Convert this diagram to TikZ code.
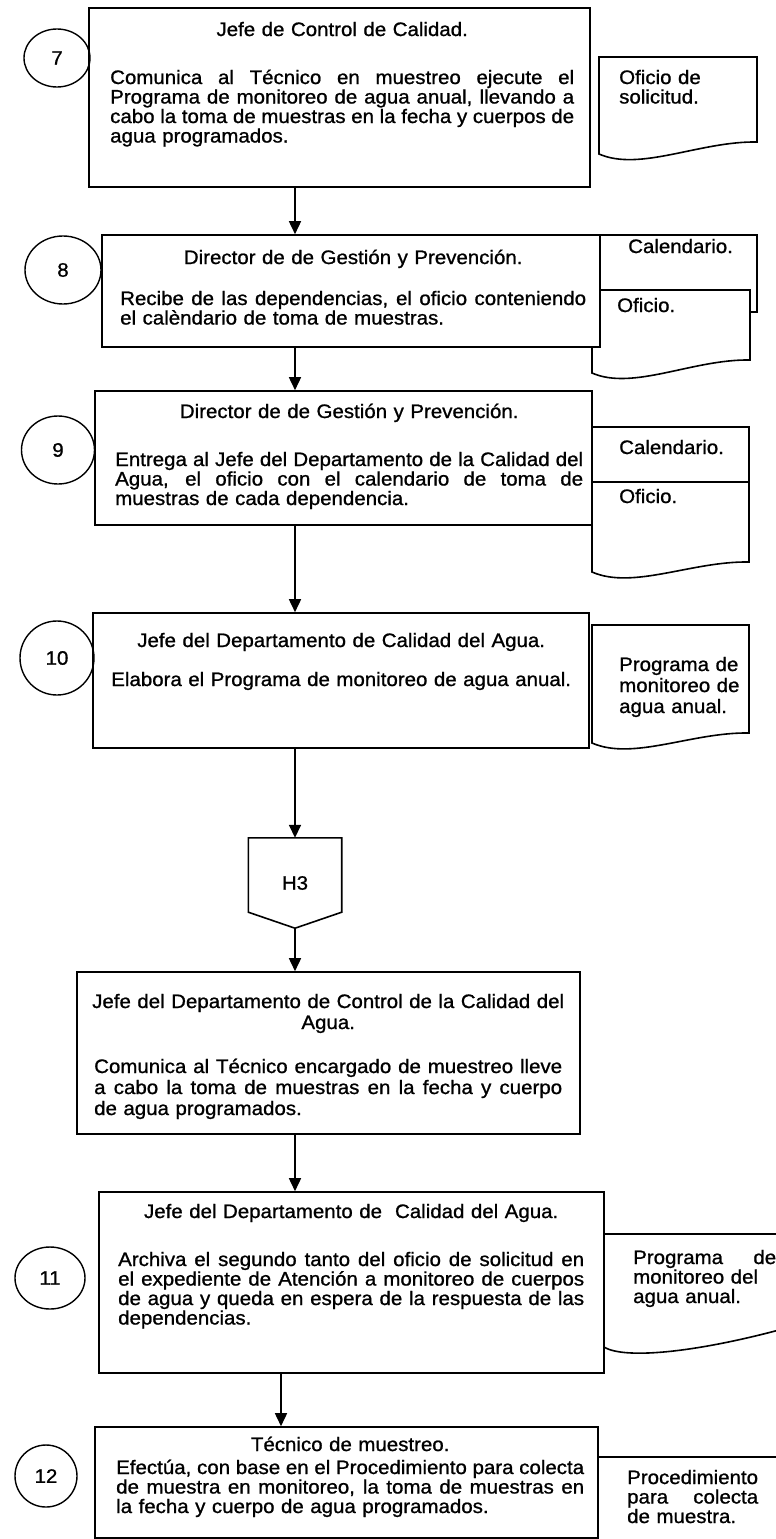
\documentclass[tikz,border=0pt]{standalone}
\usepackage{fontspec}
\setmainfont[FakeStretch=1.05,FakeBold=1]{Liberation Sans}
\usetikzlibrary{arrows.meta,calc,positioning,shapes.geometric}
\newcommand{\jline}[1]{\leavevmode\hbox to\hsize{\spaceskip=0.278em plus 1fil minus 0.06em
  \xspaceskip=\spaceskip\relax #1}}
\newcommand{\mline}[1]{\makebox[\hsize]{#1}}

\begin{document}
\begin{tikzpicture}[x=1pt,y=-1pt,
    font=\fontsize{19.5}{19.5}\selectfont,
    box/.style={draw,fill=white,line width=1.6pt,inner sep=0pt},
    circ/.style={ellipse,draw,line width=1.4pt,inner sep=0pt},
    doc/.style={draw,fill=white,line width=1.6pt},
    txt/.style={anchor=base west,inner sep=0pt},
    arr/.style={-{Triangle[length=13pt,width=12pt]},line width=1.6pt}]
  \path[use as bounding box,fill=white] (0,0) rectangle (776,1539);
  \clip (0,0) rectangle (776,1539);

  \draw[doc] (599,57) -- (757,57) -- (757,142)
    .. controls (700,141) and (640,172) .. (599,154) -- cycle;
  \draw[doc] (600,235) rectangle (757,312);
  \draw[doc] (592,290) -- (750,290) -- (750,360)
    .. controls (693,359) and (633,391) .. (592,373) -- cycle;
  \draw[doc] (592,427) -- (749,427) -- (749,562)
    .. controls (692,561) and (633,590) .. (592,572) -- cycle;
  \draw[doc] (592,482) -- (749,482);
  \draw[doc] (592,625) -- (749,625) -- (749,733)
    .. controls (692,732) and (633,761) .. (592,743) -- cycle;
  \draw[doc] (790,1234) -- (604,1234) -- (604,1347)
    .. controls (625,1360) and (700,1352) .. (790,1327);
  \draw[doc] (598,1457) -- (790,1457);

  \node[box,minimum width=501pt,minimum height=179pt] (b7) at (339.5,97.5) {};
  \node[box,minimum width=498pt,minimum height=112pt] (b8) at (351,291) {};
  \node[box,minimum width=497pt,minimum height=134pt] (b9) at (343.5,458) {};
  \node[box,minimum width=496pt,minimum height=135pt] (b10) at (341,680.5) {};
  \node[box,minimum width=503pt,minimum height=162pt] (b10b) at (328.5,1053) {};
  \node[box,minimum width=505pt,minimum height=181pt] (b11) at (351.5,1282.5) {};
  \node[box,minimum width=503pt,minimum height=111pt] (b12) at (346.5,1482.5) {};

  \node[circ,minimum width=66pt,minimum height=58pt] (c7) at (57,58) {7};
  \node[circ,minimum width=76pt,minimum height=68pt] (c8) at (63,270) {8};
  \node[circ,minimum width=73pt,minimum height=68pt] (c9) at (58,450) {9};
  \node[circ,minimum width=74pt,minimum height=74pt] (c10) at (57,658) {10};
  \node[circ,minimum width=70pt,minimum height=62pt] (c11) at (50,1278) {11};
  \node[circ,minimum width=62pt,minimum height=62pt] (c12) at (46,1476) {12};

  \node[minimum width=93pt,minimum height=74pt,inner sep=0pt] (h3) at (295,875) {};
  \coordinate (h3tip) at ($(h3.south)+(0,16)$);
  \draw[line width=1.6pt] (h3.south west) -- (h3.north west) -- (h3.north east)
    -- (h3.south east) -- (h3tip) -- cycle;
  \node (h3l) at (295,883) {H3};

  \node[txt,text width=464pt] (t7) at (110,36) {\mline{Jefe de Control de Calidad.}\\[28.5pt]
    \jline{Comunica al Técnico en muestreo ejecute el}\\
    \jline{Programa de monitoreo de agua anual, llevando a}\\
    \jline{cabo la toma de muestras en la fecha y cuerpos de}\\
    agua programados.};
  \node[txt,text width=466pt] (t8) at (120,264) {\mline{Director de de Gestión y Prevención.}\\[21.5pt]
    \jline{Recibe de las dependencias, el oficio conteniendo}\\
    el calèndario de toma de muestras.};
  \node[txt,text width=468pt] (t9) at (115,418) {\mline{Director de de Gestión y Prevención.}\\[28.5pt]
    \jline{Entrega al Jefe del Departamento de la Calidad del}\\
    \jline{Agua, el oficio con el calendario de toma de}\\
    muestras de cada dependencia.};
  \node[txt,text width=458pt] (t10) at (112,647) {\mline{Jefe del Departamento de Calidad del Agua.}\\[19.5pt]
    \mline{Elabora el Programa de monitoreo de agua anual.}};
  \node[txt,text width=468pt] (t10b) at (94,1008) {\mline{Jefe del Departamento de Control de la Calidad del}\\[1.5pt]
    \mline{Agua.}\\[24.5pt]
    \jline{Comunica al Técnico encargado de muestreo lleve}\\[1.5pt]
    \jline{a cabo la toma de muestras en la fecha y cuerpo}\\[1.5pt]
    de agua programados.};
  \node[txt,text width=466pt] (t11) at (118,1218) {\mline{Jefe del Departamento de\ \ Calidad del Agua.}\\[28.5pt]
    \jline{Archiva el segundo tanto del oficio de solicitud en}\\
    \jline{el expediente de Atención a monitoreo de cuerpos}\\
    \jline{de agua y queda en espera de la respuesta de las}\\
    dependencias.};
  \node[txt,text width=468pt] (t12) at (116,1451) {\mline{Técnico de muestreo.}\\[3.5pt]
    \jline{Efectúa, con base en el Procedimiento para colecta}\\
    \jline{de muestra en monitoreo, la toma de muestras en}\\
    la fecha y cuerpo de agua programados.};

  \node[txt,text width=130pt] (d7) at (619,84) {Oficio de\\solicitud.};
  \node[txt] (d8a) at (628,253) {Calendario.};
  \node[txt] (d8b) at (617,312) {Oficio.};
  \node[txt] (d9a) at (619,454) {Calendario.};
  \node[txt] (d9b) at (619,503) {Oficio.};
  \node[txt,text width=130pt] (d10) at (619,671) {Programa de\\[1.5pt]monitoreo de\\[1.5pt]agua anual.};
  \node[txt,text width=143pt] (d11) at (633,1264) {\jline{Programa de}\\monitoreo del\\agua anual.};
  \node[txt,text width=131pt] (d12) at (627,1484) {Procedimiento\\\jline{para colecta}\\de muestra.};

  \coordinate (ax) at (295,0);
  \coordinate (ax2) at (281,0);
  \draw[arr] (ax |- b7.south) -- (ax |- b8.north);
  \draw[arr] (ax |- b8.south) -- (ax |- b9.north);
  \draw[arr] (ax |- b9.south) -- (ax |- b10.north);
  \draw[arr] (ax |- b10.south) -- (h3.north);
  \draw[arr] (h3tip) -- (ax |- b10b.north);
  \draw[arr] (ax |- b10b.south) -- (ax |- b11.north);
  \draw[arr] (ax2 |- b11.south) -- (ax2 |- b12.north);
\end{tikzpicture}
\end{document}
